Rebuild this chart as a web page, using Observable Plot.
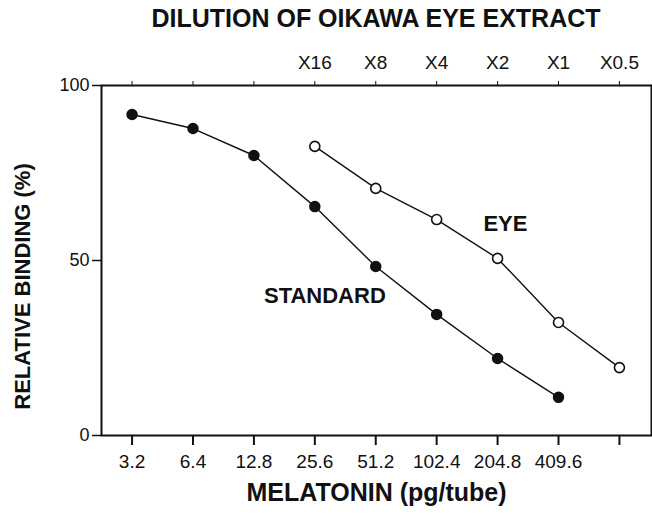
<!DOCTYPE html>
<html>
<head>
<meta charset="utf-8">
<script src="https://cdn.jsdelivr.net/npm/d3@7"></script>
<script src="https://cdn.jsdelivr.net/npm/@observablehq/plot@0.6"></script>
<style>
  body { margin: 0; background: #fff; font-family: "Liberation Sans", Arial, Helvetica, sans-serif; }
  #title { height: 40px; padding-left: 101px; width: 550px; text-align: center; font-weight: bold; font-size: 25px; line-height: 36px; color: #111; }
</style>
</head>
<body>
<div id="title">DILUTION OF OIKAWA EYE EXTRACT</div>
<div id="chart"></div>
<script>
// Tick values and labels
const melatonin = [3.2, 6.4, 12.8, 25.6, 51.2, 102.4, 204.8, 409.6, 819.2];
const melatoninLabels = ["3.2", "6.4", "12.8", "25.6", "51.2", "102.4", "204.8", "409.6", ""];
const dilutionLabels = ["", "", "", "X16", "X8", "X4", "X2", "X1", "X0.5"];
const yTicks = [0, 50, 100];

// Series: STANDARD (filled circles)
const standardX = [3.2, 6.4, 12.8, 25.6, 51.2, 102.4, 204.8, 409.6];
const standardY = [91.7, 87.7, 80.0, 65.4, 48.3, 34.6, 22.0, 10.9];

// Series: EYE (open circles)
const eyeX = [25.6, 51.2, 102.4, 204.8, 409.6, 819.2];
const eyeY = [82.6, 70.6, 61.7, 50.6, 32.3, 19.4];

// Series labels
const seriesLabels = ["STANDARD", "EYE"];
const seriesLabelX = [28.7, 224];
const seriesLabelY = [40, 60.4];

const standard = standardX.map((x, i) => ({x, y: standardY[i]}));
const eye = eyeX.map((x, i) => ({x, y: eyeY[i]}));
const annotations = seriesLabels.map((t, i) => ({t, x: seriesLabelX[i], y: seriesLabelY[i]}));
const bottomMap = new Map(melatonin.map((d, i) => [d, melatoninLabels[i]]));
const topMap = new Map(melatonin.map((d, i) => [d, dilutionLabels[i]]));

const chart = Plot.plot({
  width: 652,
  height: 476,
  marginLeft: 101,
  marginRight: 1,
  marginTop: 45,
  marginBottom: 81,
  style: {fontFamily: '"Liberation Sans", Arial, Helvetica, sans-serif', fontSize: "18px", color: "#111", background: "#fff"},
  x: {type: "log", base: 2, domain: [2.26, 1180]},
  y: {domain: [0, 100]},
  marks: [
    Plot.frame({stroke: "#111", strokeWidth: 2}),
    Plot.axisX(melatonin, {anchor: "bottom", tickFormat: d => bottomMap.get(d), tickSize: 10, tickPadding: 9, strokeWidth: 2, label: null, fontSize: 19}),
    Plot.axisX(melatonin, {anchor: "top", tickFormat: d => topMap.get(d), tickSize: 5, tickPadding: 12, label: null, fontSize: 19}),
    Plot.axisY(yTicks, {anchor: "left", tickSize: 9, tickPadding: 3, label: null, fontSize: 18, strokeWidth: 1.5}),
    Plot.text(["MELATONIN (pg/tube)"], {frameAnchor: "bottom", dy: 65, fontSize: 25, fontWeight: "bold"}),
    Plot.text(["RELATIVE BINDING (%)"], {frameAnchor: "left", textAnchor: "middle", dx: -79, dy: 26, rotate: -90, fontSize: 22, fontWeight: "bold"}),
    Plot.line(standard, {x: "x", y: "y", stroke: "#111", strokeWidth: 1.4}),
    Plot.dot(standard, {x: "x", y: "y", r: 5, fill: "#111", stroke: "#111"}),
    Plot.line(eye, {x: "x", y: "y", stroke: "#111", strokeWidth: 1.4}),
    Plot.dot(eye, {x: "x", y: "y", r: 5, fill: "#fff", stroke: "#111", strokeWidth: 1.6}),
    Plot.text(annotations, {x: "x", y: "y", text: "t", fontSize: 22, fontWeight: "bold"})
  ]
});
document.getElementById("chart").appendChild(chart);
</script>
</body>
</html>
